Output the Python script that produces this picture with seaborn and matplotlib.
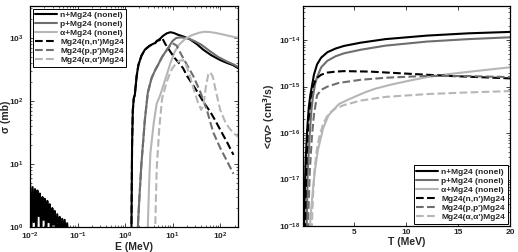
import numpy as np
import pandas as pd
import matplotlib
matplotlib.use("Agg")
import matplotlib.pyplot as plt
import seaborn as sns

# ---------------------------------------------------------
# Left panel: cross sections sigma(E), mb
# ---------------------------------------------------------
# n+Mg24 nonelastic: low-energy resonance spikes, then main curve
E_n = [0.0100, 0.0106, 0.0113, 0.0120, 0.0127, 0.0135, 0.0143, 0.0152, 0.0161, 0.0171,
       0.0182, 0.0193, 0.0205, 0.0218, 0.0231, 0.0245, 0.0260, 0.0277, 0.0294, 0.0312,
       0.0331, 0.0352, 0.0373, 0.0397, 0.0421, 0.0447, 0.0475, 0.0504, 0.0535, 0.0569,
       0.0604, 0.0641,
       1.30, 1.36, 1.40, 1.45, 1.52, 1.60, 1.75, 1.90, 2.20, 2.60, 3.20, 3.80, 4.30,
       4.70, 5.00, 5.50, 6.30, 7.50, 8.90, 10.5, 13.0, 17.0, 23.0, 32.0, 44.0, 65.0,
       100.0, 140.0, 186.0, 240.0]
sig_n = [5.2, 0.7, 4.3, 1.2, 4.0, 0.7, 3.8, 1.5, 3.4, 0.7, 3.0, 1.3, 2.8, 0.7, 2.6, 1.2,
         2.3, 0.7, 2.0, 1.1, 1.8, 0.7, 1.6, 0.9, 1.45, 0.7, 1.35, 0.8, 1.3, 0.7, 1.15, 0.6,
         0.5, 1.0, 20.0, 70.0, 110.0, 125.0, 250.0, 370.0, 520.0, 650.0, 740.0, 800.0, 830.0,
         900.0, 920.0, 980.0, 1080.0, 1180.0, 1230.0, 1200.0, 1120.0, 1050.0, 950.0, 800.0,
         650.0, 530.0, 445.0, 400.0, 370.0, 330.0]

# p+Mg24 nonelastic
E_p = [1.75, 1.85, 2.0, 2.2, 2.6, 3.0, 3.6, 4.3, 4.9, 6.0, 8.0, 10.0, 12.0, 15.0,
       20.0, 28.0, 40.0, 60.0, 90.0, 140.0, 190.0, 240.0]
sig_p = [0.5, 1.0, 3.0, 10.0, 50.0, 135.0, 230.0, 310.0, 370.0, 500.0, 690.0, 900.0,
         1000.0, 1020.0, 990.0, 900.0, 780.0, 620.0, 500.0, 420.0, 380.0, 345.0]

# alpha+Mg24 nonelastic
E_a = [2.9, 3.0, 3.2, 3.4, 4.0, 4.6, 5.5, 7.0, 9.0, 11.0, 14.0, 18.0, 25.0, 35.0,
       45.0, 60.0, 80.0, 110.0, 150.0, 200.0, 240.0]
sig_a = [0.5, 1.0, 5.0, 15.0, 45.0, 90.0, 125.0, 220.0, 400.0, 600.0, 800.0, 950.0,
         1100.0, 1200.0, 1250.0, 1240.0, 1200.0, 1140.0, 1080.0, 1030.0, 1000.0]

# Mg24(n,n')Mg24
E_nn = [1.30, 1.36, 1.40, 1.45, 1.52, 1.60, 1.75, 1.90, 2.20, 2.60, 3.20, 3.80, 4.30,
        4.70, 5.30, 6.0, 7.0, 9.0, 11.0, 13.5, 16.6, 20.0, 26.0, 33.0, 45.0, 62.0,
        80.0, 100.0, 140.0, 190.0]
sig_nn = [0.5, 1.0, 20.0, 70.0, 110.0, 125.0, 250.0, 370.0, 520.0, 650.0, 740.0, 800.0,
          830.0, 900.0, 920.0, 1000.0, 800.0, 600.0, 480.0, 400.0, 330.0, 250.0, 185.0,
          140.0, 95.0, 67.0, 48.0, 35.0, 22.0, 14.0]

# Mg24(p,p')Mg24
E_pp = [1.75, 1.85, 2.0, 2.2, 2.6, 3.0, 3.6, 4.3, 4.9, 6.0, 8.0, 10.0, 12.0, 16.6,
        21.0, 27.0, 38.0, 53.0, 71.0, 100.0, 140.0, 190.0]
sig_pp = [0.5, 1.0, 3.0, 10.0, 50.0, 135.0, 230.0, 310.0, 370.0, 500.0, 690.0, 820.0,
          760.0, 480.0, 350.0, 250.0, 140.0, 70.0, 32.0, 18.0, 11.0, 7.0]

# Mg24(alpha,alpha')Mg24
E_aa = [4.2, 4.3, 4.6, 5.2, 6.0, 7.5, 9.0, 10.0, 12.0, 14.0, 16.6, 19.0, 23.0, 28.0,
        34.0, 40.0, 45.0, 50.0, 56.0, 62.0, 70.0, 80.0, 100.0, 130.0, 160.0, 200.0, 240.0]
sig_aa = [0.5, 1.0, 8.0, 35.0, 110.0, 200.0, 290.0, 335.0, 400.0, 435.0, 445.0, 380.0,
          250.0, 150.0, 95.0, 72.0, 90.0, 170.0, 260.0, 285.0, 240.0, 150.0, 72.0, 45.0,
          36.0, 30.0, 27.0]

# ---------------------------------------------------------
# Right panel: reaction rates <sigma v>(T), cm^3/s
# ---------------------------------------------------------
T_n = [0.12, 0.15, 0.2, 0.3, 0.44, 0.6, 0.75, 0.9, 1.1, 1.4, 1.8, 2.4, 3.2, 4.0, 5.6,
       8.0, 12.0, 16.0, 20.0]
rate_n = [1e-19, 1e-18, 4e-18, 2.5e-17, 1.1e-16, 3.5e-16, 6.5e-16, 1.0e-15, 1.8e-15,
          3.0e-15, 4.2e-15, 5.5e-15, 6.6e-15, 7.5e-15, 8.8e-15, 1.05e-14, 1.25e-14,
          1.4e-14, 1.5e-14]

T_p = [0.32, 0.4, 0.5, 0.7, 0.85, 1.0, 1.2, 1.4, 1.8, 2.4, 3.2, 4.0, 5.6, 8.0, 12.0,
       16.0, 20.0]
rate_p = [1e-19, 1e-18, 1.5e-17, 1.0e-16, 3.0e-16, 6.0e-16, 1.1e-15, 1.6e-15, 2.6e-15,
          3.6e-15, 4.5e-15, 5.2e-15, 6.2e-15, 7.6e-15, 9.3e-15, 1.05e-14, 1.15e-14]

T_a = [0.62, 0.72, 0.85, 1.0, 1.2, 1.5, 2.0, 2.5, 3.0, 3.5, 4.2, 5.0, 6.0, 7.0, 8.5,
       10.0, 12.0, 14.0, 17.0, 20.0]
rate_a = [1e-19, 1e-18, 2.5e-18, 6e-18, 1.6e-17, 4.5e-17, 1.3e-16, 2.4e-16, 3.2e-16,
          4.2e-16, 5.0e-16, 6.0e-16, 7.5e-16, 9.0e-16, 1.1e-15, 1.3e-15, 1.6e-15,
          1.85e-15, 2.2e-15, 2.6e-15]

T_nn = [0.2, 0.25, 0.3, 0.4, 0.55, 0.8, 1.0, 1.2, 1.5, 1.8, 2.4, 3.2, 4.0, 6.5, 10.0,
        14.0, 20.0]
rate_nn = [1e-19, 1e-18, 4e-18, 3e-17, 1.6e-16, 6e-16, 1.0e-15, 1.3e-15, 1.6e-15,
           1.8e-15, 2.0e-15, 2.1e-15, 2.15e-15, 2.1e-15, 1.9e-15, 1.7e-15, 1.5e-15]

T_pp = [0.45, 0.55, 0.7, 0.9, 1.1, 1.4, 1.8, 2.4, 3.5, 5.6, 8.0, 12.0, 16.0, 20.0]
rate_pp = [1e-19, 1.5e-18, 1.5e-17, 8e-17, 2.5e-16, 6.5e-16, 8.5e-16, 1.0e-15, 1.2e-15,
           1.4e-15, 1.55e-15, 1.7e-15, 1.68e-15, 1.6e-15]

T_aa = [0.8, 0.9, 1.0, 1.15, 1.35, 1.6, 2.0, 2.5, 3.2, 4.0, 5.6, 8.0, 12.0, 16.0, 20.0]
rate_aa = [1e-19, 1e-18, 4e-18, 1.5e-17, 4e-17, 8e-17, 1.6e-16, 2.6e-16, 3.4e-16,
           4.0e-16, 5.0e-16, 6.0e-16, 6.9e-16, 7.5e-16, 8.0e-16]

labels = ["n+Mg24 (nonel)", "p+Mg24 (nonel)", "\u03b1+Mg24 (nonel)",
          "Mg24(n,n')Mg24", "Mg24(p,p')Mg24", "Mg24(\u03b1,\u03b1')Mg24"]
colors = ["black", "#6e6e6e", "#b6b6b6", "black", "#6e6e6e", "#b6b6b6"]
styles = ["-", "-", "-", "--", "--", "--"]

left_series = [(E_n, sig_n), (E_p, sig_p), (E_a, sig_a),
               (E_nn, sig_nn), (E_pp, sig_pp), (E_aa, sig_aa)]
right_series = [(T_n, rate_n), (T_p, rate_p), (T_a, rate_a),
                (T_nn, rate_nn), (T_pp, rate_pp), (T_aa, rate_aa)]

# ---------------------------------------------------------
# Style
# ---------------------------------------------------------
sns.set_style("ticks")
plt.rcParams["font.family"] = ["Liberation Sans", "DejaVu Sans"]
plt.rcParams["font.weight"] = "bold"
plt.rcParams["mathtext.default"] = "bf"
plt.rcParams["xtick.direction"] = "in"
plt.rcParams["ytick.direction"] = "in"
plt.rcParams["axes.linewidth"] = 0.9

fig = plt.figure(figsize=(5.18, 2.52), dpi=100)
ax1 = fig.add_axes([0.058, 0.099, 0.402, 0.877])
ax2 = fig.add_axes([0.585, 0.103, 0.400, 0.873])


def draw(ax, series):
    for (x, y), lab, c, ls in zip(series, labels, colors, styles):
        df = pd.DataFrame({"x": x, "y": y})
        sns.lineplot(data=df, x="x", y="y", ax=ax, color=c, linestyle=ls,
                     linewidth=1.5, label=lab, estimator=None, sort=False)


def style_axis(ax):
    ax.tick_params(which="both", top=True, right=True, labelsize=6, pad=2)
    ax.tick_params(which="major", length=3, width=0.6)
    ax.tick_params(which="minor", length=1.6, width=0.5)
    for sp in ax.spines.values():
        sp.set_visible(True)
        sp.set_color("black")


def add_legend(ax, loc):
    leg = ax.legend(loc=loc, fontsize=6, frameon=True, fancybox=False,
                    edgecolor="black", framealpha=1, handlelength=2.6,
                    labelspacing=0.15, borderpad=0.3, handletextpad=0.4,
                    borderaxespad=0.3)
    leg.get_frame().set_linewidth(0.7)


# --- left: cross sections ---
draw(ax1, left_series)
ax1.set_xscale("log")
ax1.set_yscale("log")
ax1.set_xlim(0.01, 240)
ax1.set_ylim(1, 3200)
ax1.set_xticks([1e-2, 1e-1, 1e0, 1e1, 1e2])
ax1.set_yticks([1e0, 1e1, 1e2, 1e3])
ax1.set_xlabel("E (MeV)", fontsize=7.5, fontweight="bold", labelpad=0)
ax1.set_ylabel("\u03c3 (mb)", fontsize=7.5, fontweight="bold")
ax1.yaxis.set_label_coords(-0.09, 0.5)
style_axis(ax1)
ax1.tick_params(axis="y", which="both", pad=4.5)
ax1.tick_params(axis="x", which="both", pad=2.5)
add_legend(ax1, "upper left")

# --- right: rates ---
draw(ax2, right_series)
ax2.set_yscale("log")
ax2.set_xlim(0.05, 20)
ax2.set_ylim(1e-18, 5.4e-14)
ax2.set_xticks([5, 10, 15, 20])
ax2.set_xticklabels(["5", "10", "15", "20"])
ax2.set_yticks([1e-18, 1e-17, 1e-16, 1e-15, 1e-14])
ax2.set_xlabel("T (MeV)", fontsize=7.5, fontweight="bold", labelpad=1)
ax2.set_ylabel("<\u03c3v> (cm$^3$/s)", fontsize=7.5, fontweight="bold", labelpad=1)
style_axis(ax2)
add_legend(ax2, "lower right")

plt.savefig("out.png", dpi=100)
plt.close()
